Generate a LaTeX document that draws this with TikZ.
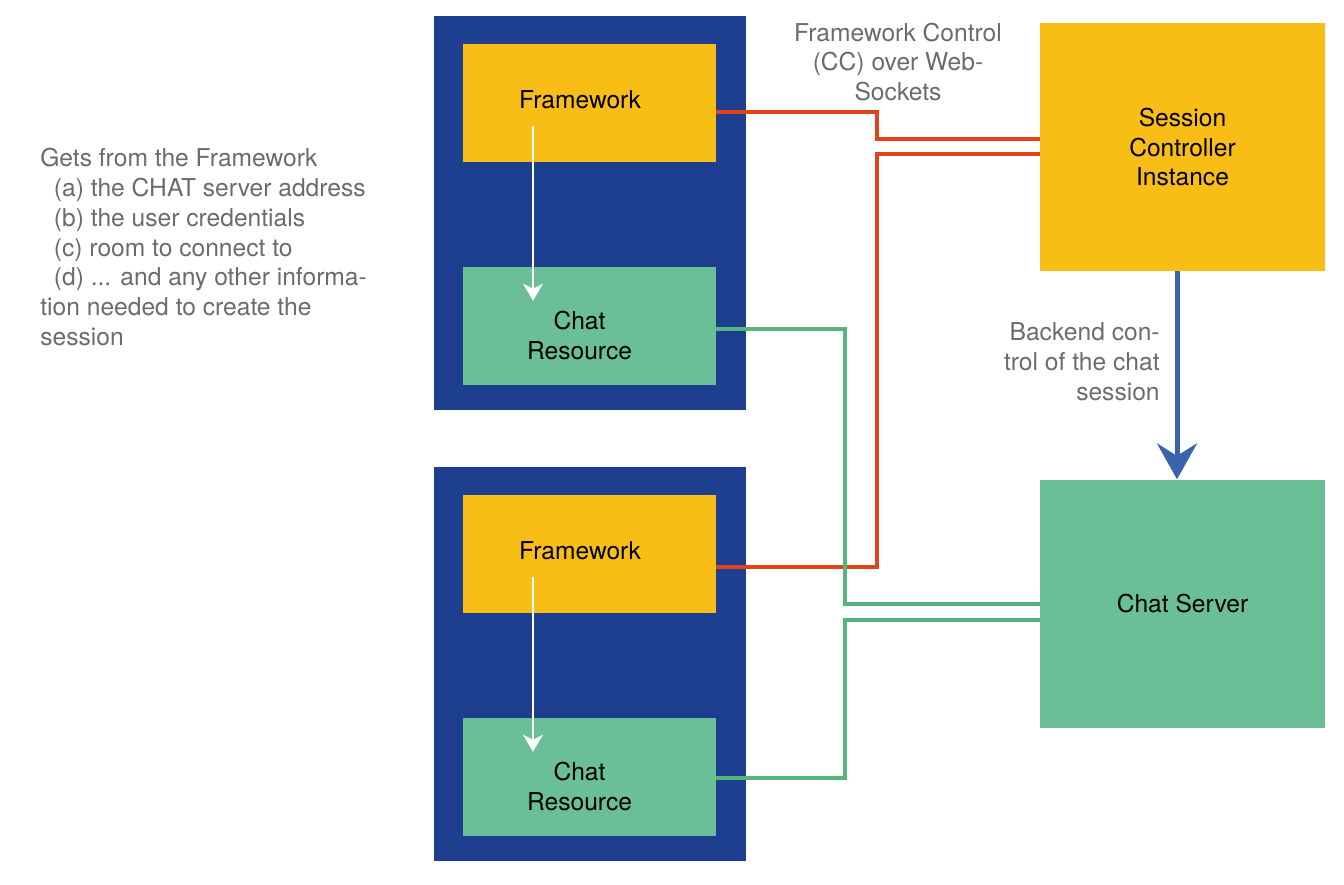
\documentclass[tikz,border=0pt]{standalone}
\usepackage{fontspec}
\setmainfont{TeX Gyre Heros}
\usepackage{tikz}
\usetikzlibrary{arrows.meta,positioning,calc}
\definecolor{hostblue}{HTML}{1E3F8F}
\definecolor{fwyellow}{HTML}{F9BE16}
\definecolor{resgreen}{HTML}{6BBF96}
\definecolor{ccorange}{HTML}{E0441A}
\definecolor{chatgreen}{HTML}{55B57A}
\definecolor{ctlblue}{HTML}{3A63AE}
\definecolor{notegray}{HTML}{6B6B6B}
\tikzstyle{host} = [rectangle, fill=hostblue, minimum width=6.24cm, minimum height=7.88cm, inner sep=0pt]
\tikzstyle{block} = [rectangle, minimum height=2.36cm, minimum width=5.06cm, text=black, align=center, inner sep=0pt]
\tikzstyle{big} = [block, minimum width=5.7cm, minimum height=4.96cm]
\tikzstyle{boxtext} = [text=black, align=center, inner sep=0pt]
\tikzstyle{note} = [text=notegray, inner sep=0pt]
\tikzstyle{cc} = [draw=ccorange, line width=0.08cm]
\tikzstyle{chat} = [draw=chatgreen, line width=0.08cm]
\tikzstyle{ctl} = [draw=ctlblue, line width=0.1cm, -{Stealth[length=0.72cm, width=0.8cm, inset=0.25cm]}]
\tikzstyle{flow} = [draw=white, line width=0.03cm, -{Stealth[length=0.34cm, width=0.4cm, inset=0.1cm]}]

\begin{document}
\begin{tikzpicture}[font=\fontsize{14}{17}\selectfont]
    \useasboundingbox (0,0) rectangle (26.88,-17.7);
    \node at (11.8,-4.26) [host, name=host1] {};
    \node at (11.8,-13.27) [host, name=host2] {};

    \node at (11.79,-2.06) [block, fill=fwyellow, name=fw1] {};
    \node [block, fill=resgreen, below=2.08cm of fw1] (cr1) {};
    \node at (11.79,-11.08) [block, fill=fwyellow, name=fw2] {};
    \node [block, fill=resgreen, below=2.08cm of fw2] (cr2) {};
    \node at ($(fw1)+(-0.19,0.06)$) [boxtext, name=fw1txt] {Framework};
    \node at ($(cr1)+(-0.2,-0.2)$) [boxtext, name=cr1txt] {Chat\\Resource};
    \node at ($(fw2)+(-0.19,0.06)$) [boxtext, name=fw2txt] {Framework};
    \node at ($(cr2)+(-0.2,-0.2)$) [boxtext, name=cr2txt] {Chat\\Resource};

    \node at (23.65,-2.94) [big, fill=fwyellow, name=sc] {Session\\Controller\\Instance};
    \node [big, fill=resgreen, below=4.16cm of sc] (cs) {Chat Server};

    \draw [flow] ($(fw1)+(-1.13,-0.46)$) -- ($(cr1)+(-1.13,0.5)$);
    \draw [flow] ($(fw2)+(-1.13,-0.46)$) -- ($(cr2)+(-1.13,0.5)$);

    \draw [cc] ($(fw1.east)+(0,-0.18)$) -| ($(sc.west)+(-3.26,0.15)$) -- ($(sc.west)+(0,0.15)$);
    \draw [cc] ($(fw2.east)+(0,-0.26)$) -| ($(sc.west)+(-3.26,-0.15)$) -- ($(sc.west)+(0,-0.15)$);
    \draw [chat] ($(cr1.east)+(0,-0.06)$) -| ($(cs.west)+(-3.9,0)$) -- (cs.west);
    \draw [chat] ($(cr2.east)+(0,-0.02)$) -| ($(cs.west)+(-3.9,-0.32)$) -- ($(cs.west)+(0,-0.32)$);

    \draw [ctl] ($(sc.south)+(-0.11,0)$) -- ($(cs.north)+(-0.11,0)$);

    \node at (17.96,-1.24) [note, align=center, name=cclabel] {Framework Control\\(CC) over Web-\\Sockets};
    \node at (23.2,-7.24) [note, align=right, anchor=east, name=bclabel] {Backend con-\\trol of the chat\\session};
    \node at (0.8,-4.94) [note, align=left, anchor=west, name=infolabel] {Gets from the Framework\\
        \hspace*{0.55em}(a) the CHAT server address\\
        \hspace*{0.55em}(b) the user credentials\\
        \hspace*{0.55em}(c) room to connect to\\
        \hspace*{0.55em}(d) ... and any other informa-\\
        tion needed to create the\\
        session};
\end{tikzpicture}
\end{document}
